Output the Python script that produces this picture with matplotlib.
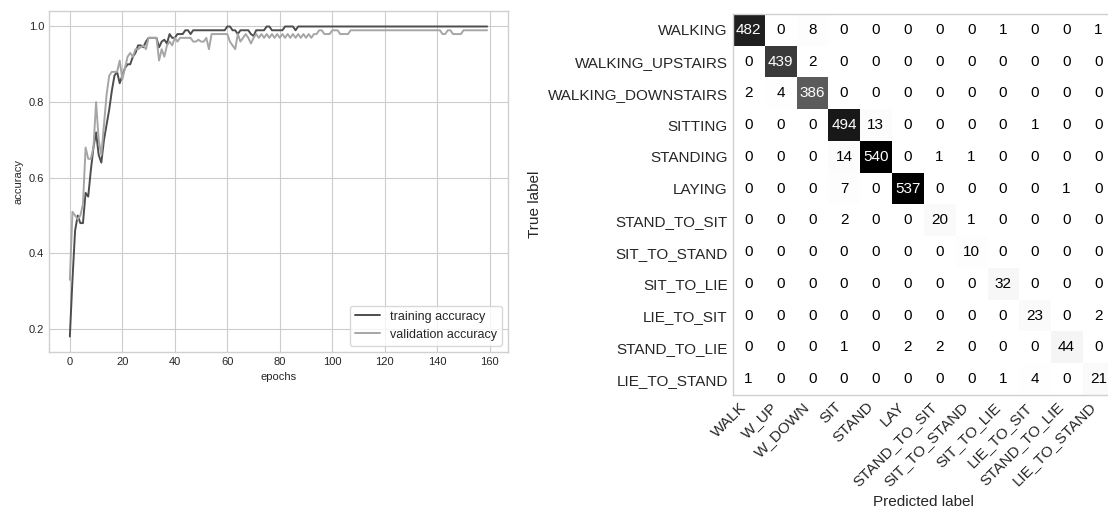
import numpy as np
import matplotlib
matplotlib.use('Agg')
import matplotlib.pyplot as plt

plt.style.use('seaborn-v0_8-whitegrid')
plt.rcParams['font.family'] = ['Liberation Sans', 'DejaVu Sans']

# accuracy per epoch
train_acc = [0.18, 0.33, 0.46, 0.50, 0.48, 0.48, 0.56, 0.55, 0.62, 0.68,
             0.72, 0.66, 0.64, 0.70, 0.74, 0.78, 0.83, 0.87, 0.88, 0.85,
             0.87, 0.89, 0.90, 0.90, 0.92, 0.93, 0.95, 0.95, 0.945, 0.96,
             0.97, 0.97, 0.97, 0.97, 0.945, 0.96, 0.965, 0.955, 0.98, 0.97,
             0.97, 0.98, 0.98, 0.98, 0.99, 0.99, 0.98, 0.99, 0.99, 0.99,
             0.99, 0.99, 0.99, 0.99, 0.99, 0.99, 0.99, 0.99, 0.99, 0.99,
             1.0, 1.0, 0.99, 0.99, 0.98, 0.99, 0.99, 0.99, 0.99, 0.98,
             0.975, 0.99, 0.99, 0.99, 0.99, 1.0, 1.0, 0.99, 0.99, 0.99,
             0.99, 0.99, 1.0, 1.0, 1.0, 1.0, 0.99, 1.0, 1.0, 1.0,
             1.0, 1.0, 1.0, 1.0, 1.0, 1.0, 1.0, 1.0, 1.0, 1.0,
             1.0, 1.0, 1.0, 1.0, 1.0, 1.0, 1.0, 1.0, 1.0, 1.0,
             1.0, 1.0, 1.0, 1.0, 1.0, 1.0, 1.0, 1.0, 1.0, 1.0,
             1.0, 1.0, 1.0, 1.0, 1.0, 1.0, 1.0, 1.0, 1.0, 1.0,
             1.0, 1.0, 1.0, 1.0, 1.0, 1.0, 1.0, 1.0, 1.0, 1.0,
             1.0, 1.0, 1.0, 1.0, 1.0, 1.0, 1.0, 1.0, 1.0, 1.0,
             1.0, 1.0, 1.0, 1.0, 1.0, 1.0, 1.0, 1.0, 1.0, 1.0]

val_acc = [0.33, 0.51, 0.50, 0.49, 0.50, 0.53, 0.68, 0.65, 0.65, 0.68,
           0.80, 0.70, 0.66, 0.74, 0.82, 0.87, 0.88, 0.88, 0.88, 0.91,
           0.86, 0.89, 0.92, 0.93, 0.92, 0.94, 0.94, 0.945, 0.95, 0.94,
           0.97, 0.97, 0.97, 0.97, 0.91, 0.94, 0.92, 0.95, 0.96, 0.95,
           0.97, 0.96, 0.97, 0.97, 0.97, 0.97, 0.97, 0.96, 0.96, 0.965,
           0.96, 0.96, 0.97, 0.94, 0.98, 0.98, 0.98, 0.98, 0.98, 0.98,
           0.98, 0.96, 0.95, 0.94, 0.98, 0.96, 0.97, 0.98, 0.97, 0.955,
           0.97, 0.98, 0.97, 0.98, 0.97, 0.98, 0.97, 0.98, 0.97, 0.98,
           0.97, 0.98, 0.97, 0.98, 0.97, 0.98, 0.97, 0.98, 0.97, 0.98,
           0.97, 0.98, 0.97, 0.98, 0.98, 0.99, 0.99, 0.98, 0.98, 0.98,
           0.99, 0.99, 0.99, 0.98, 0.98, 0.98, 0.98, 0.99, 0.99, 0.99,
           0.99, 0.99, 0.99, 0.99, 0.99, 0.99, 0.99, 0.99, 0.99, 0.99,
           0.99, 0.99, 0.99, 0.99, 0.99, 0.99, 0.99, 0.99, 0.99, 0.99,
           0.99, 0.99, 0.99, 0.99, 0.99, 0.99, 0.99, 0.99, 0.99, 0.99,
           0.99, 0.99, 0.98, 0.98, 0.99, 0.99, 0.98, 0.98, 0.98, 0.98,
           0.99, 0.99, 0.99, 0.99, 0.99, 0.99, 0.99, 0.99, 0.99, 0.99]

true_labels = ['WALKING', 'WALKING_UPSTAIRS', 'WALKING_DOWNSTAIRS', 'SITTING',
               'STANDING', 'LAYING', 'STAND_TO_SIT', 'SIT_TO_STAND',
               'SIT_TO_LIE', 'LIE_TO_SIT', 'STAND_TO_LIE', 'LIE_TO_STAND']
pred_labels = ['WALK', 'W_UP', 'W_DOWN', 'SIT', 'STAND', 'LAY', 'STAND_TO_SIT',
               'SIT_TO_STAND', 'SIT_TO_LIE', 'LIE_TO_SIT', 'STAND_TO_LIE',
               'LIE_TO_STAND']

cm = np.array([
    [482, 0, 8, 0, 0, 0, 0, 0, 1, 0, 0, 1],
    [0, 439, 2, 0, 0, 0, 0, 0, 0, 0, 0, 0],
    [2, 4, 386, 0, 0, 0, 0, 0, 0, 0, 0, 0],
    [0, 0, 0, 494, 13, 0, 0, 0, 0, 1, 0, 0],
    [0, 0, 0, 14, 540, 0, 1, 1, 0, 0, 0, 0],
    [0, 0, 0, 7, 0, 537, 0, 0, 0, 0, 1, 0],
    [0, 0, 0, 2, 0, 0, 20, 1, 0, 0, 0, 0],
    [0, 0, 0, 0, 0, 0, 0, 10, 0, 0, 0, 0],
    [0, 0, 0, 0, 0, 0, 0, 0, 32, 0, 0, 0],
    [0, 0, 0, 0, 0, 0, 0, 0, 0, 23, 0, 2],
    [0, 0, 0, 1, 0, 2, 2, 0, 0, 0, 44, 0],
    [1, 0, 0, 0, 0, 0, 0, 0, 1, 4, 0, 21]])

fig = plt.figure(figsize=(11.08, 5.09), dpi=100)

# ---- accuracy curves ----
ax1 = fig.add_axes([0.0442, 0.3084, 0.4143, 0.670])
epochs = np.arange(len(train_acc))
ax1.plot(epochs, train_acc, color='#4d4d4d', lw=1.4, label='training accuracy')
ax1.plot(epochs, val_acc, color='#a6a6a6', lw=1.4, label='validation accuracy')
ax1.set_xlabel('epochs', fontsize=8, color='#262626')
ax1.set_ylabel('accuracy', fontsize=8, color='#262626')
ax1.set_xticks(np.arange(0, 161, 20))
ax1.set_yticks([0.2, 0.4, 0.6, 0.8, 1.0])
ax1.tick_params(labelsize=8, colors='#262626')
for s in ax1.spines.values():
    s.set_visible(True)
    s.set_color('#d0d0d0')
leg = ax1.legend(loc='lower right', fontsize=9, frameon=True, fancybox=True)
leg.get_frame().set_edgecolor('#d0d0d0')

# ---- confusion matrix ----
ax2 = fig.add_axes([0.6613, 0.224, 0.3444, 0.7485])
ax2.imshow(cm, cmap=plt.cm.Greys, interpolation='nearest', aspect='auto')
ax2.grid(False)
ticks = np.arange(len(pred_labels))
ax2.set_xticks(ticks)
ax2.set_xticklabels(pred_labels, rotation=45, ha='right')
ax2.set_yticks(ticks)
ax2.set_yticklabels(true_labels)
ax2.tick_params(length=0, labelsize=11, colors='#262626')
thresh = cm.max() / 2.
for i in range(cm.shape[0]):
    for j in range(cm.shape[1]):
        ax2.text(j, i, format(cm[i, j], 'd'), ha='center', va='center',
                 fontsize=11, color='white' if cm[i, j] > thresh else 'black')
ax2.set_ylabel('True label', fontsize=11, color='#262626')
ax2.set_xlabel('Predicted label', fontsize=11, color='#262626')
for s in ax2.spines.values():
    s.set_visible(True)
    s.set_color('#d0d0d0')

fig.savefig('out.png', dpi=100)
